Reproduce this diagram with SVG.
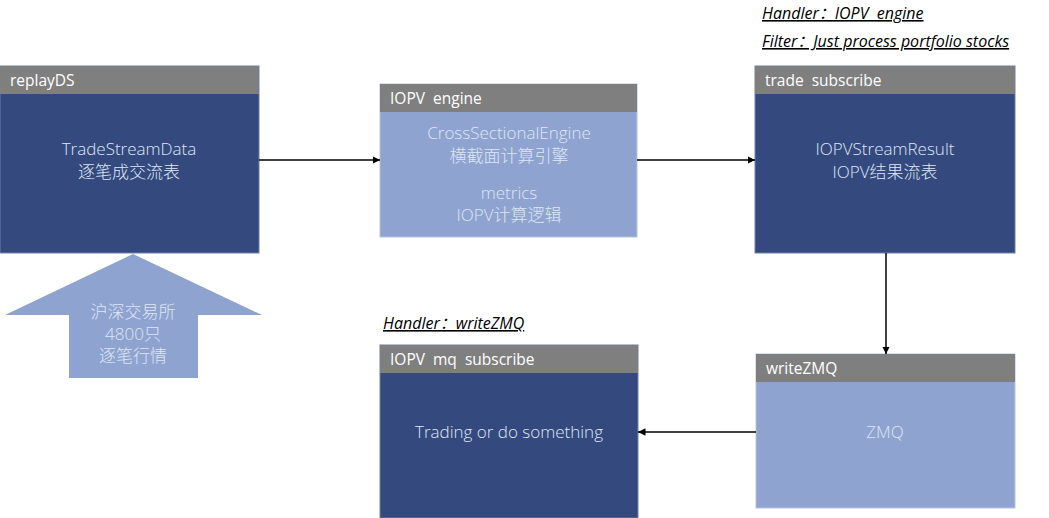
<svg xmlns="http://www.w3.org/2000/svg" width="1049" height="518" viewBox="0 0 1049 518">
<style>
.hdr{fill:#7f7f7f}
.dark{fill:#344a7e;stroke:#6e80aa;stroke-width:1}
.light{fill:#8fa3d0;stroke:#b4c2e2;stroke-width:1}
.ht{font-family:"Open Sans","Noto Sans CJK SC",sans-serif;font-size:15.5px;fill:#ffffff}
.bt{font-family:"Open Sans","Noto Sans CJK SC",sans-serif;font-weight:300;font-size:17px;fill:#dfe6f5;text-anchor:middle}
.note{font-family:"Open Sans","Noto Sans CJK SC",sans-serif;font-style:italic;font-size:16px;fill:#000;text-decoration:underline}
.con{stroke:#000;stroke-width:1.5;fill:none}
</style>
<defs>
<marker id="ah" viewBox="0 0 10 10" refX="10" refY="5" markerWidth="5" markerHeight="5" orient="auto" markerUnits="strokeWidth">
<path d="M0,0 L10,5 L0,10 z" fill="#000"/>
</marker>
</defs>
<g id="replayDS">
<rect class="dark" x="0" y="66" width="259" height="187"/>
<rect class="hdr" x="0" y="66" width="259" height="28"/>
<text class="ht" x="10" y="86">replayDS</text>
<text class="bt" x="129" y="155">TradeStreamData</text>
<text class="bt" x="129" y="178">逐笔成交流表</text>
</g>
<g id="source">
<polygon points="133,254 262,315 198,315 198,378 69,378 69,315 5,315" fill="#8fa3d0"/>
<text class="bt" x="133" y="318">沪深交易所</text>
<text class="bt" x="133" y="340">4800只</text>
<text class="bt" x="133" y="362">逐笔行情</text>
</g>
<g id="iopvEngine">
<rect class="light" x="380" y="84" width="257" height="153"/>
<rect class="hdr" x="380" y="84" width="257" height="28"/>
<text class="ht" x="390" y="104" xml:space="preserve">IOPV  engine</text>
<text class="bt" x="509" y="139">CrossSectionalEngine</text>
<text class="bt" x="509" y="162">横截面计算引擎</text>
<text class="bt" x="509" y="199">metrics</text>
<text class="bt" x="509" y="221">IOPV计算逻辑</text>
</g>
<g id="tradeSubscribe">
<text class="note" x="762" y="19" xml:space="preserve">Handler：IOPV  engine</text>
<text class="note" x="762" y="47">Filter：Just process portfolio stocks</text>
<rect class="dark" x="755" y="66" width="260" height="187"/>
<rect class="hdr" x="755" y="66" width="260" height="28"/>
<text class="ht" x="765" y="86" xml:space="preserve">trade  subscribe</text>
<text class="bt" x="885" y="155">IOPVStreamResult</text>
<text class="bt" x="885" y="178">IOPV结果流表</text>
</g>
<g id="writeZMQ">
<rect class="light" x="756" y="354" width="259" height="154"/>
<rect class="hdr" x="756" y="354" width="259" height="28"/>
<text class="ht" x="766" y="374">writeZMQ</text>
<text class="bt" x="885" y="438">ZMQ</text>
</g>
<g id="mqSubscribe">
<text class="note" x="383" y="329">Handler：writeZMQ</text>
<rect class="dark" x="380" y="345" width="258" height="173"/>
<rect class="hdr" x="380" y="345" width="258" height="28"/>
<text class="ht" x="390" y="365" xml:space="preserve">IOPV  mq  subscribe</text>
<text class="bt" x="509" y="438">Trading or do something</text>
</g>
<g id="connectors">
<path class="con" d="M259,160 L380,160" marker-end="url(#ah)"/>
<path class="con" d="M637,160 L755,160" marker-end="url(#ah)"/>
<path class="con" d="M886,253 L886,354" marker-end="url(#ah)"/>
<path class="con" d="M756,432 L638,432" marker-end="url(#ah)"/>
</g>
</svg>
